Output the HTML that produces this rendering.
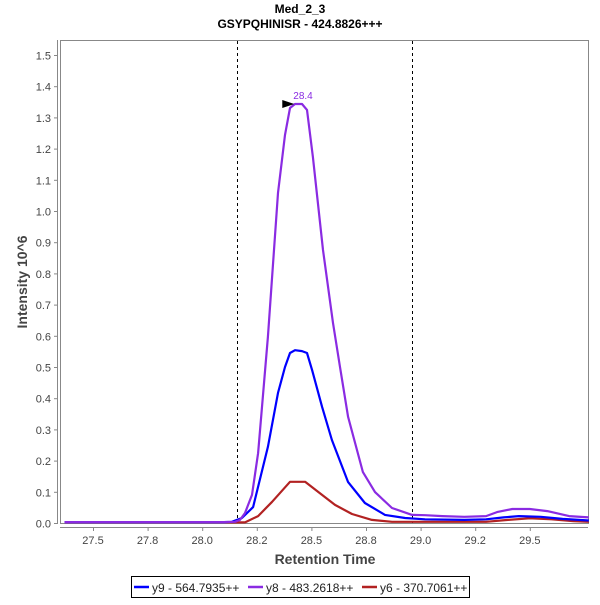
<!DOCTYPE html>
<html><head><meta charset="utf-8"><style>
body{margin:0;background:#fff;width:600px;height:600px;overflow:hidden;font-family:"Liberation Sans",sans-serif}
</style></head><body>
<svg id="chart" width="600" height="600" xmlns="http://www.w3.org/2000/svg" font-family="Liberation Sans, sans-serif">
<text x="300" y="13" text-anchor="middle" font-size="12" font-weight="bold" fill="#000">Med_2_3</text>
<text x="300" y="28" text-anchor="middle" font-size="12" font-weight="bold" fill="#000">GSYPQHINISR - 424.8826+++</text>
<rect x="60.5" y="40.5" width="528" height="483" fill="#fff" stroke="#888"/>
<g id="yaxis"></g>
<g id="xaxis"></g>
<g id="series"></g>
<text transform="translate(27,282) rotate(-90)" text-anchor="middle" font-size="14" font-weight="bold" fill="#444">Intensity 10^6</text>
<text x="325" y="564" text-anchor="middle" font-size="14" font-weight="bold" fill="#444">Retention Time</text>
<g>
<rect x="131.5" y="576.5" width="338" height="21" fill="#fff" stroke="#000"/>
<g><line x1="134" y1="587" x2="149" y2="587" stroke="#0000ff" stroke-width="2.5"/><text x="152" y="592" font-size="12" fill="#222">y9 - 564.7935++</text></g>
<g><line x1="248" y1="587" x2="263" y2="587" stroke="#8a2be2" stroke-width="2.5"/><text x="266" y="592" font-size="12" fill="#222">y8 - 483.2618++</text></g
><g><line x1="362" y1="587" x2="377" y2="587" stroke="#b22222" stroke-width="2.5"/><text x="380" y="592" font-size="12" fill="#222">y6 - 370.7061++</text></g>
</g>
</svg>
<script>
const yTicks=[0,0.1,0.2,0.3,0.4,0.5,0.6,0.7,0.8,0.9,1.0,1.1,1.2,1.3,1.4,1.5];
const xTicks=[27.5,27.75,28.0,28.25,28.5,28.75,29.0,29.25,29.5];
const xTickLabels=["27.5","27.8","28.0","28.2","28.5","28.8","29.0","29.2","29.5"];
const boundaries=[28.16,28.96];
const peakTime=[28.44];
const peakValue=[1.343];
const peakLabel=["28.4"];
const y9Times=[27.37,28.10,28.136,28.182,28.233,28.301,28.347,28.379,28.402,28.425,28.457,28.48,28.503,28.549,28.594,28.668,28.745,28.837,28.929,29.02,29.2,29.3,29.38,29.45,29.55,29.65,29.77];
const y9Values=[0.003,0.003,0.004,0.016,0.051,0.244,0.417,0.5,0.545,0.554,0.551,0.545,0.49,0.372,0.266,0.131,0.064,0.026,0.016,0.012,0.01,0.012,0.018,0.022,0.02,0.013,0.008];
const y8Times=[27.37,28.10,28.15,28.173,28.196,28.228,28.256,28.301,28.347,28.379,28.402,28.425,28.457,28.48,28.507,28.553,28.599,28.631,28.668,28.736,28.791,28.869,28.961,29.02,29.1,29.2,29.3,29.35,29.42,29.5,29.58,29.68,29.77];
const y8Values=[0.003,0.003,0.004,0.01,0.032,0.09,0.224,0.596,1.058,1.244,1.33,1.343,1.343,1.324,1.173,0.875,0.641,0.5,0.34,0.163,0.099,0.048,0.026,0.025,0.022,0.02,0.022,0.035,0.045,0.045,0.038,0.022,0.018];
const y6Times=[27.37,28.15,28.196,28.256,28.32,28.402,28.471,28.53,28.608,28.686,28.777,28.869,29.0,29.3,29.4,29.5,29.6,29.7,29.77];
const y6Values=[0.002,0.002,0.002,0.022,0.068,0.132,0.132,0.1,0.058,0.029,0.01,0.004,0.004,0.004,0.01,0.015,0.012,0.006,0.004];
const NS="http://www.w3.org/2000/svg";
const X=t=>93+(t-27.5)*218.4;
const Y=v=>523-v*312;
function mk(tag,attrs,parent){const e=document.createElementNS(NS,tag);for(const k in attrs)e.setAttribute(k,attrs[k]);parent.appendChild(e);return e;}
const ya=document.getElementById('yaxis'),xa=document.getElementById('xaxis'),sl=document.getElementById('series');
mk('line',{x1:57.5,y1:40,x2:57.5,y2:524,stroke:'#888'},ya);
yTicks.forEach(v=>{
 const t=mk('line',{x1:54,y1:Y(v)+0.5,x2:57.5,y2:Y(v)+0.5,stroke:'#888'},ya);
 
 
 const l=mk('text',{x:51,y:Y(v)+4.5,'text-anchor':'end','font-size':11,fill:'#444'},ya);
 l.textContent=v.toFixed(1);
 
 
});
mk('line',{x1:60,y1:527.5,x2:588,y2:527.5,stroke:'#888'},xa);
xTicks.forEach((v,i)=>{
 const t=mk('line',{x1:X(v)+0.5,y1:527.5,x2:X(v)+0.5,y2:531,stroke:'#888'},xa);
 
 
 const l=mk('text',{x:X(v),y:544,'text-anchor':'middle','font-size':11,fill:'#444'},xa);
 l.textContent=xTickLabels[i];
 
 
});
boundaries.forEach(b=>{
 const d=mk('line',{x1:Math.round(X(b))+0.5,y1:41,x2:Math.round(X(b))+0.5,y2:523,stroke:'#000','stroke-dasharray':'3,3','stroke-width':1},sl);
 
 
});
function series(ts,vs,color,name){
 const p=mk('polyline',{points:ts.map((t,i)=>X(t).toFixed(1)+','+Y(vs[i]).toFixed(1)).join(' '),fill:'none',stroke:color,'stroke-width':2.2,'stroke-linejoin':'round'},sl);
 
 
}
series(y6Times,y6Values,'#b22222','series-y6');
series(y9Times,y9Values,'#0000ff','series-y9');
series(y8Times,y8Values,'#8a2be2','series-y8');
const px=X(peakTime[0]),py=Y(peakValue[0]);
const tri=mk('polygon',{points:(px-16)+','+(py-4)+' '+(px-4)+','+py+' '+(px-16)+','+(py+4),fill:'#000'},sl);


const pl=mk('text',{x:px-5,y:py-5,'font-size':10,fill:'#8a2be2'},sl);
pl.textContent=peakLabel[0];


</script>
</body></html>
